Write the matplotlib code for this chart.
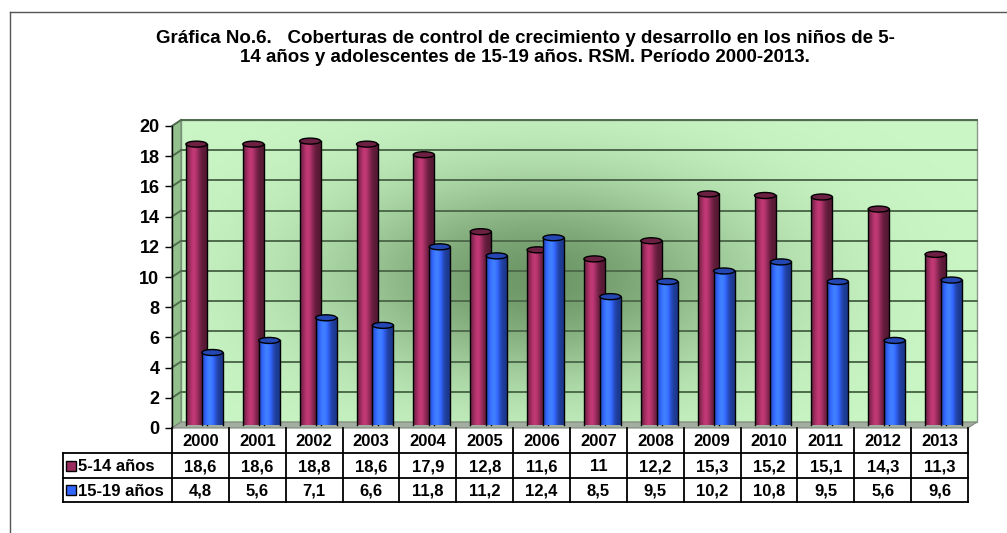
import numpy as np
import matplotlib
matplotlib.use("Agg")
import matplotlib.pyplot as plt
from matplotlib.patches import Ellipse, Polygon, Rectangle

years = ["2000", "2001", "2002", "2003", "2004", "2005", "2006",
         "2007", "2008", "2009", "2010", "2011", "2012", "2013"]
ninos_5_14 = [18.6, 18.6, 18.8, 18.6, 17.9, 12.8, 11.6, 11.0, 12.2, 15.3, 15.2, 15.1, 14.3, 11.3]
adol_15_19 = [4.8, 5.6, 7.1, 6.6, 11.8, 11.2, 12.4, 8.5, 9.5, 10.2, 10.8, 9.5, 5.6, 9.6]
series_names = ["5-14 años", "15-19 años"]
series_colors = ["#9b2d5e", "#3366ff"]
y_ticks = list(range(0, 21, 2))

title = ("Gráfica No.6.   Coberturas de control de crecimiento y desarrollo en los niños de 5-\n"
         "14 años y adolescentes de 15-19 años. RSM. Período 2000-2013.")

plt.rcParams["font.family"] = ["Liberation Sans", "DejaVu Sans"]
plt.rcParams["font.weight"] = "bold"

W, H = 1007, 533
fig = plt.figure(figsize=(W / 100, H / 100), dpi=100)

# pixel layout of the front plane of the plot
x_left, x_right = 172, 968
y_zero, y_top = 428, 126
ax = fig.add_axes([x_left / W, 1 - y_zero / H, (x_right - x_left) / W, (y_zero - y_top) / H])
n = len(years)
ax.set_xlim(0, n)
ax.set_ylim(0, 20)

px_x = n / (x_right - x_left)
px_y = 20 / (y_zero - y_top)
dx, dy = 9 * px_x, 6 * px_y  # depth offset of the back wall


def to_rgb(c):
    return np.array(matplotlib.colors.to_rgb(c))


# back wall with a darker green patch in the middle
gx = np.linspace(0, n, 200)
gy = np.linspace(0, 20, 120)
GX, GY = np.meshgrid(gx, gy)
dark = np.exp(-((GX - 6.3) / 3.8) ** 2 - ((GY - 9.5) / 7.0) ** 2)
light_c = to_rgb("#cbf7c6")
dark_c = to_rgb("#6f9868")
img = light_c[None, None, :] * (1 - dark[..., None]) + dark_c[None, None, :] * dark[..., None]
ax.imshow(img, extent=[dx, n + dx, dy, 20 + dy], origin="lower", aspect="auto",
          zorder=0, clip_on=False)
ax.add_patch(Rectangle((dx, dy), n, 20, fill=False, edgecolor="#8a9a8a", lw=1,
                       zorder=1, clip_on=False))

# side wall and floor
ax.add_patch(Polygon([(0, 0), (dx, dy), (dx, 20 + dy), (0, 20)], closed=True,
                     facecolor="#93c08c", edgecolor="#6d8a6a", lw=0.8, zorder=1, clip_on=False))
ax.add_patch(Polygon([(0, 0), (n, 0), (n + dx, dy), (dx, dy)], closed=True,
                     facecolor="#a3ada1", edgecolor="#7c887a", lw=0.8, zorder=1, clip_on=False))

for v in y_ticks[1:]:
    ax.plot([dx, n + dx], [v + dy, v + dy], color="#4e6b4c", lw=1.4, zorder=2, clip_on=False)
    ax.plot([0, dx], [v, v + dy], color="#4e6b4c", lw=1.4, zorder=2, clip_on=False)


def cylinder(xc, width, top, color, z):
    base = to_rgb(color)
    t = np.linspace(0, 1, 40)
    shade = 0.55 + 0.7 * np.exp(-((t - 0.35) / 0.28) ** 2)
    row = np.clip(base[None, :] * shade[:, None], 0, 1)
    y0 = dy / 2
    y1 = top + dy / 2
    eh = 6 * px_y
    ax.imshow(row[None, :, :], extent=[xc - width / 2, xc + width / 2, y0, y1],
              origin="lower", aspect="auto", zorder=z, clip_on=False)
    ax.plot([xc - width / 2, xc - width / 2], [y0, y1], color="black", lw=1, zorder=z + 0.1)
    ax.plot([xc + width / 2, xc + width / 2], [y0, y1], color="black", lw=1, zorder=z + 0.1)
    ax.add_patch(Ellipse((xc, y1), width, eh, facecolor=base * 0.7, edgecolor="black",
                         lw=1, zorder=z + 0.2, clip_on=False))


bar_w = 0.37
for i in range(n):
    cylinder(i + 0.43, bar_w, ninos_5_14[i], series_colors[0], 3 + i * 0.01)
    cylinder(i + 0.71, bar_w, adol_15_19[i], series_colors[1], 4 + i * 0.01)

ax.set_xlim(0, n)
ax.set_ylim(0, 20)
for side in ["top", "right", "bottom"]:
    ax.spines[side].set_visible(False)
ax.spines["left"].set_color("black")
ax.spines["left"].set_linewidth(1)
ax.spines["left"].set_zorder(5)
ax.set_xticks([])
ax.set_yticks(y_ticks)
ax.set_yticklabels([str(v) for v in y_ticks], fontsize=13, fontweight="bold")
ax.tick_params(axis="y", length=5, width=1, pad=4, direction="out")

# overlay in pixel coordinates for title, frame and data table
ov = fig.add_axes([0, 0, 1, 1], facecolor="none")
ov.set_xlim(0, W)
ov.set_ylim(H, 0)
ov.axis("off")

ov.plot([10, 10], [12, H], color="#555555", lw=1)
ov.plot([10, W], [12, 12], color="#555555", lw=1)

ov.text(525, 48, title, ha="center", va="center", fontsize=13.5, fontweight="bold",
        linespacing=1.15)

col_w = (x_right - x_left) / n
row_top, row1, row2, row_bot = 428, 453, 478, 502
label_left = 63
lc = "black"
for i in range(n + 1):
    xx = x_left + i * col_w
    ov.plot([xx, xx], [row_top, row_bot], color=lc, lw=1.3)
ov.plot([label_left, label_left], [row1, row_bot], color=lc, lw=1.3)
for yy in (row1, row2, row_bot):
    ov.plot([label_left, x_right], [yy, yy], color=lc, lw=1.3)

for i, yr in enumerate(years):
    xc = x_left + (i + 0.5) * col_w
    ov.text(xc, (row_top + row1) / 2 + 1, yr, ha="center", va="center", fontsize=12,
            fontweight="bold")
    for vals, (ya, yb) in ((ninos_5_14, (row1, row2)), (adol_15_19, (row2, row_bot))):
        s = f"{vals[i]:g}".replace(".", ",")
        ov.text(xc, (ya + yb) / 2 + 1, s, ha="center", va="center", fontsize=12,
                fontweight="bold")

for name, color, (ya, yb) in zip(series_names, series_colors, ((row1, row2), (row2, row_bot))):
    ym = (ya + yb) / 2
    ov.add_patch(Rectangle((66, ym - 5), 10, 10, facecolor=color, edgecolor="black", lw=1))
    ov.text(78, ym + 1, name, ha="left", va="center", fontsize=12, fontweight="bold")

fig.savefig("out.png", dpi=100)
